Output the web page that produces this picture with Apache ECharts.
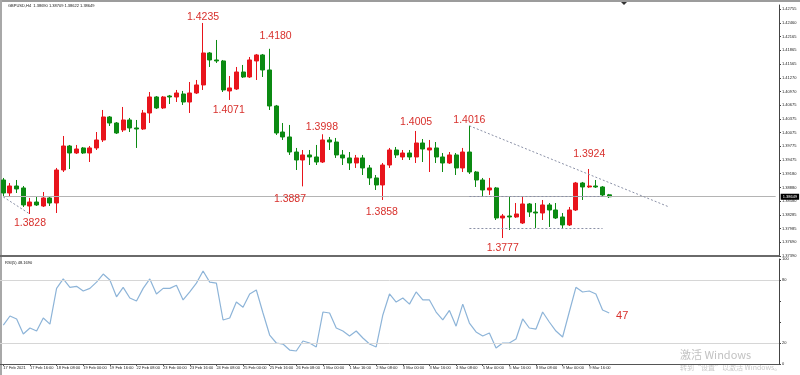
<!DOCTYPE html>
<html><head><meta charset="utf-8">
<script src="https://cdn.jsdelivr.net/npm/echarts@6.0.0/dist/echarts.min.js"></script>
<style>html,body{margin:0;padding:0;background:#fff;overflow:hidden}#c{width:800px;height:375px}</style>
</head><body><div id="c"></div>
<script>
const timeLabels = ["17 Feb 2021","17 Feb 16:00","18 Feb 08:00","19 Feb 00:00","19 Feb 16:00","22 Feb 08:00","23 Feb 00:00","23 Feb 16:00","24 Feb 08:00","25 Feb 00:00","25 Feb 16:00","26 Feb 08:00","1 Mar 00:00","1 Mar 16:00","2 Mar 08:00","3 Mar 00:00","3 Mar 16:00","4 Mar 08:00","5 Mar 00:00","5 Mar 16:00","8 Mar 08:00","9 Mar 00:00","9 Mar 16:00"];
const opens = [1.39006,1.38729,1.38878,1.38836,1.38452,1.38537,1.38452,1.38623,1.38516,1.39219,
1.39730,1.39581,1.39688,1.39581,1.39688,1.39858,1.40348,1.40220,1.40071,1.40284,
1.40114,1.40092,1.40433,1.40774,1.40540,1.40795,1.40774,1.40838,1.40667,1.40859,
1.41030,1.41711,1.41562,1.41541,1.40902,1.40944,1.41306,1.41200,1.41541,1.41669,
1.41349,1.40582,1.40028,1.39922,1.39602,1.39432,1.39539,1.39496,1.39389,1.39858,
1.39815,1.39539,1.39475,1.39368,1.39475,1.39262,1.39049,1.38900,1.39325,1.39645,
1.39496,1.39581,1.39496,1.39794,1.39645,1.39688,1.39496,1.39368,1.39539,1.39262,
1.39602,1.39176,1.39006,1.38793,1.38836,1.38197,1.38239,1.38218,1.38090,1.38495,
1.38324,1.38303,1.38474,1.38367,1.38218,1.38048,1.38367,1.38942,1.38857,1.38878,
1.38857,1.38690];
const closes = [1.38729,1.38878,1.38815,1.38474,1.38537,1.38474,1.38623,1.38516,1.39219,1.39730,
1.39581,1.39666,1.39581,1.39688,1.39858,1.40348,1.40220,1.40007,1.40284,1.40114,
1.40092,1.40433,1.40774,1.40540,1.40774,1.40774,1.40859,1.40667,1.40859,1.41030,
1.41711,1.41562,1.41541,1.40923,1.40966,1.41306,1.41200,1.41562,1.41669,1.41349,
1.40582,1.40007,1.39922,1.39602,1.39432,1.39539,1.39496,1.39389,1.39858,1.39815,
1.39539,1.39475,1.39368,1.39475,1.39262,1.39049,1.38900,1.39325,1.39645,1.39539,
1.39581,1.39496,1.39794,1.39666,1.39688,1.39496,1.39368,1.39539,1.39262,1.39602,
1.39176,1.39006,1.38793,1.38836,1.38197,1.38239,1.38218,1.38282,1.38495,1.38324,
1.38303,1.38474,1.38367,1.38197,1.38048,1.38367,1.38942,1.38857,1.38878,1.38857,
1.38687,1.38649];
const lows = [1.38665,1.38644,1.38729,1.38431,1.38282,1.38452,1.38431,1.38452,1.38303,1.39176,
1.39240,1.39560,1.39560,1.39389,1.39645,1.39815,1.40156,1.39986,1.40028,1.40028,
1.39688,1.40071,1.40220,1.40518,1.40518,1.40625,1.40667,1.40604,1.40433,1.40838,
1.40923,1.41413,1.41498,1.40880,1.40710,1.40923,1.41179,1.41179,1.41136,1.41200,
1.40497,1.39965,1.39858,1.39539,1.39219,1.38870,1.39325,1.39325,1.39368,1.39645,
1.39475,1.39325,1.39219,1.39262,1.39112,1.38900,1.38793,1.38580,1.39262,1.39475,
1.39432,1.39432,1.39368,1.39389,1.39176,1.39368,1.39176,1.39347,1.39112,1.39176,
1.39134,1.38857,1.38644,1.38687,1.38154,1.37770,1.37941,1.38197,1.38069,1.38218,
1.37984,1.38154,1.38005,1.38175,1.37984,1.38026,1.38346,1.38580,1.38836,1.38836,
1.38665,1.38622];
const highs = [1.39049,1.38942,1.39006,1.38878,1.38623,1.38644,1.38750,1.38644,1.39262,1.39943,
1.39752,1.39752,1.39709,1.39730,1.40028,1.40497,1.40369,1.40241,1.40561,1.40327,
1.40284,1.40497,1.40880,1.40795,1.40795,1.40817,1.40923,1.40902,1.41093,1.41136,
1.42350,1.41732,1.41988,1.41562,1.41221,1.41413,1.41456,1.41626,1.41690,1.41690,
1.41800,1.40604,1.40220,1.40178,1.39688,1.39645,1.39645,1.39752,1.39980,1.39922,
1.39901,1.39645,1.39602,1.39539,1.39539,1.39325,1.39112,1.39368,1.39688,1.39709,
1.39645,1.39645,1.40050,1.39879,1.39858,1.39815,1.39581,1.39602,1.39581,1.39688,
1.40160,1.39198,1.39049,1.39049,1.38857,1.38282,1.38644,1.38516,1.38644,1.38516,
1.38516,1.38580,1.38516,1.38516,1.38303,1.38431,1.38964,1.38964,1.39240,1.39006,
1.38878,1.38709];
const rsi = [37,45.7,42.8,28.6,34.3,31.4,43.8,38,72,81,73,74,69.5,72,78,85.7,80,64,73,62.9,
60,72,81,66.7,72,72,75,61,68.6,77,88.6,78,77,41.9,43.8,59,54,66.7,70.5,48.6,
27.6,20,19,13.3,12.4,21.9,20,16.2,49.5,48.6,34.3,31.4,26.7,31.4,24.8,19,16.2,46.7,66.7,59,
62.9,57,68.6,61,61,49.5,42,51,36,57,39,30.5,26.7,29.5,15.2,20,20,23.8,42.9,34.3,
33.3,49.5,40,31.4,25.7,49.5,73,68.6,69.5,66.7,51.4,48.6];
const priceTickLabels = ["1.37390","1.37690","1.37985","1.38285","1.38580","1.38880","1.39180","1.39475","1.39775","1.40075","1.40375","1.40675","1.40970","1.41270","1.41565","1.41865","1.42165","1.42460","1.42755"];
const rsiTickLabels = [0, 20, 80, 100];
const rsiLevels = [20, 80];
const lastPrice = 1.38649;
const titleText = "GBPUSD,H4  1.38690 1.38709 1.38622 1.38649";
const rsiTitle = "RSI(5) 48.1690";
const annotations = [
  {text:"1.4235", i:30, p:1.4235, dx:0, dy:-6},
  {text:"1.4180", i:40, p:1.4180, dx:6, dy:-13},
  {text:"1.4071", i:34, p:1.4071, dx:-1, dy:10},
  {text:"1.3998", i:48, p:1.3998, dx:-1, dy:-7},
  {text:"1.3887", i:45, p:1.3887, dx:-13, dy:13},
  {text:"1.3858", i:57, p:1.3858, dx:-1, dy:12},
  {text:"1.4005", i:62, p:1.4005, dx:0, dy:-9},
  {text:"1.4016", i:70, p:1.4016, dx:0, dy:-6},
  {text:"1.3924", i:88, p:1.3924, dx:0, dy:-15},
  {text:"1.3777", i:75, p:1.3777, dx:0, dy:10},
  {text:"1.3828", i:4, p:1.3828, dx:0, dy:9}
];
const trendLine = [[70, 1.4016], [100, 1.38431]];
const rangeTop = [[70, 1.38665], [90, 1.38665]];
const rangeBottom = [[70, 1.37984], [90, 1.37984]];
const leftLine = [[0, 1.38644], [4, 1.3828]];

const Y_MIN = 1.37387, Y_MAX = 1.42733, Y_STEP = 0.00292;
const SLOTS = 117;
const cats = [];
for (let i = 0; i < SLOTS; i++) cats.push(i % 4 === 0 && i / 4 < timeLabels.length ? timeLabels[i / 4] : '');
const candleData = opens.map((o, i) => [o, closes[i], lows[i], highs[i]]);
const RED = '#e8141c', GREEN = '#0b8a12', ANN = '#d8302c';
const dotted = {color: '#8a90a6', width: 1, type: [2, 2]};
const seg = (a) => [{coord: a[0], lineStyle: dotted}, {coord: a[1]}];

const chart = echarts.init(document.getElementById('c'));
chart.setOption({
  animation: false,
  textStyle: {fontFamily: 'Liberation Sans, Arial, sans-serif'},
  grid: [
    {left: 0, right: 21, top: 5, height: 251},
    {left: 0, right: 21, top: 259, height: 105}
  ],
  xAxis: [
    {type: 'category', gridIndex: 0, data: cats, boundaryGap: true,
     axisLine: {show: true, onZero: false, lineStyle: {color: '#6a6a6a', width: 2}},
     axisTick: {show: false}, axisLabel: {show: false}, splitLine: {show: false}},
    {type: 'category', gridIndex: 1, data: cats, boundaryGap: true,
     axisLine: {show: true, onZero: false, lineStyle: {color: '#555', width: 1}},
     axisTick: {show: true, length: 2, alignWithLabel: true, interval: (i) => cats[i] !== '', lineStyle: {color: '#555'}},
     axisLabel: {interval: 0, align: 'left', fontSize: 4, color: '#222', margin: 2}}
  ],
  yAxis: [
    {type: 'value', gridIndex: 0, position: 'right', min: Y_MIN, max: Y_MAX, interval: Y_STEP, scale: true,
     axisLine: {show: true, lineStyle: {color: '#444'}},
     axisTick: {show: true, length: 2, lineStyle: {color: '#444'}},
     axisLabel: {fontSize: 4, color: '#222', margin: 3, showMaxLabel: false,
       formatter: (v) => priceTickLabels[Math.round((v - Y_MIN) / Y_STEP)] || ''},
     splitLine: {show: false}},
    {type: 'value', gridIndex: 1, position: 'right', min: 0, max: 100, interval: 20,
     axisLine: {show: true, lineStyle: {color: '#444'}},
     axisTick: {show: true, length: 2, lineStyle: {color: '#444'}},
     axisLabel: {fontSize: 4, color: '#222', margin: 3, formatter: (v) => rsiTickLabels.includes(v) ? String(v) : ''},
     splitLine: {show: false}}
  ],
  series: [
    {type: 'candlestick', xAxisIndex: 0, yAxisIndex: 0, data: candleData, barWidth: 4.5,
     itemStyle: {color: RED, color0: GREEN, borderColor: RED, borderColor0: GREEN, borderWidth: 1},
     markLine: {silent: true, symbol: 'none', label: {show: false}, precision: 5,
       data: [
         [{coord: [0, lastPrice], lineStyle: {color: '#b4b4b4', width: 1, type: 'solid'},
           label: {show: true, position: 'end', formatter: lastPrice.toFixed(5), backgroundColor: '#000', color: '#fff', fontSize: 4, padding: [1, 2], distance: 5}},
          {coord: [SLOTS - 1, lastPrice]}],
         seg(trendLine), seg(rangeTop), seg(rangeBottom), seg(leftLine)]},
     markPoint: {silent: true, symbol: 'circle', symbolSize: 0,
       data: annotations.map(a => ({coord: [a.i, a.p], value: a.text,
         label: {show: true, position: 'inside', offset: [a.dx, a.dy], formatter: a.text, color: ANN, fontSize: 10.5}}))}
    },
    {type: 'line', xAxisIndex: 1, yAxisIndex: 1, data: rsi, symbol: 'none',
     lineStyle: {color: '#8db4d8', width: 1.2},
     markLine: {silent: true, symbol: 'none', label: {show: false},
       lineStyle: {color: '#d6d6d6', width: 1, type: 'solid'},
       data: rsiLevels.map(v => ({yAxis: v}))},
     markPoint: {silent: true, symbol: 'circle', symbolSize: 0,
       data: [{coord: [rsi.length - 1, rsi[rsi.length - 1]], value: 47,
         label: {show: true, position: 'inside', offset: [13, 3], formatter: '47', color: ANN, fontSize: 11}}]}
    }
  ],
  graphic: [
    {type: 'rect', shape: {x: 0, y: 0, width: 800, height: 2}, style: {fill: '#9c9c9c'}, silent: true},
    {type: 'rect', shape: {x: 0, y: 0, width: 2, height: 375}, style: {fill: '#a8a8a8'}, silent: true},
    {type: 'polygon', shape: {points: [[621, 2], [627, 2], [624, 5]]}, style: {fill: '#333'}, silent: true},
    {type: 'text', left: 8, top: 4, style: {text: titleText, fontSize: 4, fill: '#111', fontFamily: 'Liberation Sans, Arial'}},
    {type: 'text', left: 5, top: 261, style: {text: rsiTitle, fontSize: 4, fill: '#111', fontFamily: 'Liberation Sans, Arial'}},
    {type: 'text', left: 680, top: 349, style: {text: '激活 Windows', fontSize: 11, fill: '#c2c2c2', fontFamily: 'Noto Sans CJK SC'}},
    {type: 'text', left: 680, top: 364, style: {text: '转到“设置”以激活 Windows。', fontSize: 7, fill: '#c8c8c8', fontFamily: 'Noto Sans CJK SC'}}
  ]
});
</script></body></html>
